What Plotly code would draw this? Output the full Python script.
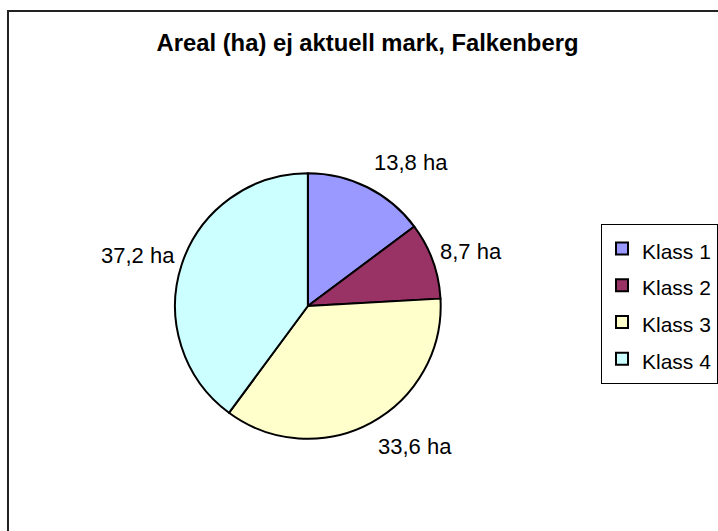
import math
import plotly.graph_objects as go

categories = ["Klass 1", "Klass 2", "Klass 3", "Klass 4"]
values = [13.8, 8.7, 33.6, 37.2]
value_labels = ["13,8 ha", "8,7 ha", "33,6 ha", "37,2 ha"]
colors = ["#9999FF", "#993366", "#FFFFCC", "#CCFFFF"]
title_text = "Areal (ha) ej aktuell mark, Falkenberg"

W, H = 718, 531
cx, cy, r = 308.3, 306, 133
label_gap, label_ry = 5, r + 27
FONT = "Liberation Sans, Arial"

# legend entries: larger legend font gives Excel-like row spacing, text itself at 21px
legend_names = [f"<span style='font-size:21px'>{c}</span>" for c in categories]

fig = go.Figure(go.Pie(
    labels=legend_names,
    values=values,
    textinfo="none",
    sort=False,
    direction="clockwise",
    rotation=0,
    marker=dict(colors=colors, line=dict(color="black", width=2)),
    domain=dict(x=[(cx - r) / W, (cx + r) / W], y=[1 - (cy + r) / H, 1 - (cy - r) / H]),
    hovertext=categories,
    hoverinfo="text+value",
))

# data labels placed Excel-style beside the slice mid-angle, computed from the values
total = sum(values)
annotations = []
cum = 0.0
for v, lab in zip(values, value_labels):
    mid = (cum + v / 2) / total * 2 * math.pi
    cum += v
    sx, sy = math.sin(mid), math.cos(mid)
    side = 1 if sx >= 0 else -1
    px = cx + r * sx + side * label_gap
    py = cy - label_ry * sy
    annotations.append(dict(
        text=lab, x=px / W, y=1 - py / H, xref="paper", yref="paper",
        xanchor="left" if side > 0 else "right",
        yanchor="middle",
        showarrow=False,
        font=dict(family=FONT, size=22, color="black"),
    ))

fig.update_layout(
    width=W, height=H,
    margin=dict(l=0, r=0, t=0, b=0),
    paper_bgcolor="white",
    plot_bgcolor="white",
    font=dict(family=FONT, color="black"),
    title=dict(text="<b>" + title_text + "</b>", x=367.5 / W, xanchor="center",
               y=1 - 42.5 / H, yanchor="middle",
               font=dict(family=FONT, size=23.8, color="black")),
    legend=dict(x=602 / W, y=1 - 224 / H, xanchor="left", yanchor="top",
                bgcolor="white", bordercolor="black", borderwidth=1,
                font=dict(family=FONT, size=26, color="black")),
    annotations=annotations,
    shapes=[dict(type="rect", xref="paper", yref="paper",
                 x0=8 / W, x1=1.02, y0=-0.02, y1=1 - 11 / H,
                 line=dict(color="#222222", width=2), layer="below")],
)

fig.write_html("out.html", config={"displayModeBar": False},
               post_script="document.body.style.margin='0';")
